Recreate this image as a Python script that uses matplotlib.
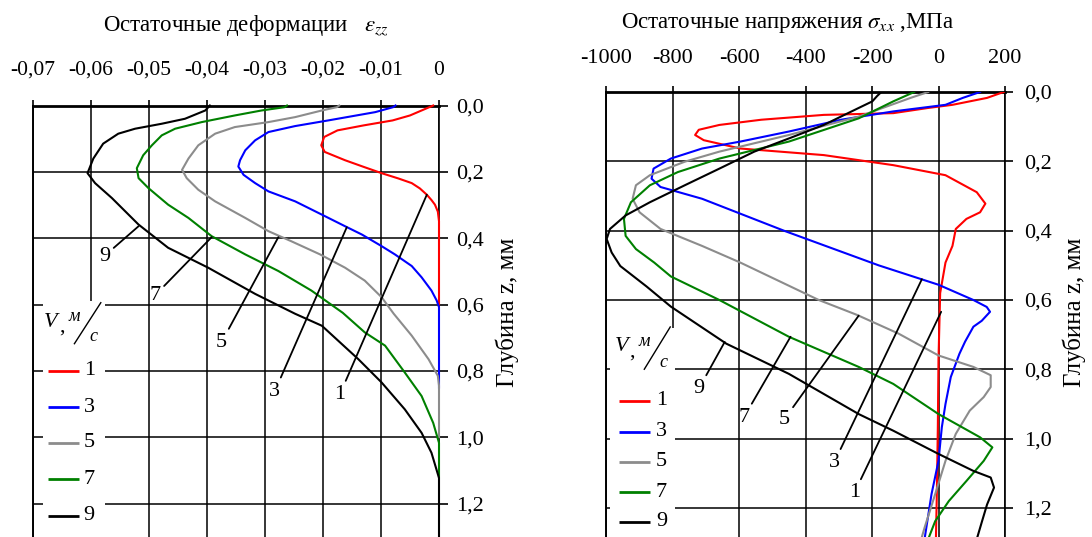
import matplotlib
matplotlib.use("Agg")
import matplotlib.pyplot as plt
from matplotlib.patches import Rectangle

plt.rcParams['font.family'] = ['Liberation Serif', 'DejaVu Serif']
plt.rcParams['mathtext.fontset'] = 'stix'

# ---- data: residual strain eps_zz (left) ----
speeds = ['1', '3', '5', '7', '9']
colors = ['#ff0000', '#0000ff', '#8c8c8c', '#008000', '#000000']

eps_z1 = [0.0, 0.015, 0.03, 0.045, 0.06, 0.075, 0.095, 0.12, 0.14, 0.165, 0.185, 0.204, 0.22, 0.234, 0.25, 0.269, 0.285, 0.299, 0.32, 0.349, 0.6]
eps_v1 = [-0.0010, -0.0030, -0.0050, -0.0080, -0.0130, -0.0175, -0.0198, -0.0203, -0.0197, -0.0162, -0.0130, -0.0099, -0.0070, -0.0047, -0.0033, -0.0021, -0.0013, -0.0007, -0.0002, 0.0, 0.0]

eps_z3 = [0.0, 0.005, 0.02, 0.045, 0.062, 0.08, 0.105, 0.135, 0.165, 0.184, 0.209, 0.234, 0.259, 0.289, 0.329, 0.364, 0.389, 0.424, 0.449, 0.484, 0.518, 0.558, 0.588, 0.608, 0.85]
eps_v3 = [-0.0075, -0.0079, -0.0110, -0.0191, -0.0248, -0.0294, -0.0317, -0.0334, -0.0343, -0.0346, -0.0337, -0.0317, -0.0294, -0.0248, -0.0202, -0.0162, -0.0133, -0.0099, -0.0076, -0.0047, -0.0030, -0.0013, -0.0004, 0.0, 0.0]

eps_z5 = [0.0, 0.005, 0.015, 0.035, 0.05, 0.065, 0.085, 0.12, 0.16, 0.194, 0.219, 0.254, 0.289, 0.339, 0.379, 0.409, 0.449, 0.489, 0.528, 0.578, 0.628, 0.694, 0.765, 0.815, 0.845, 1.0]
eps_v5 = [-0.0172, -0.0176, -0.0202, -0.0248, -0.0294, -0.0352, -0.0386, -0.0415, -0.0432, -0.0443, -0.0435, -0.0415, -0.0386, -0.0334, -0.0294, -0.0255, -0.0205, -0.0162, -0.0128, -0.0099, -0.0078, -0.0047, -0.0018, -0.0002, 0.0, 0.0]

eps_z7 = [0.0, 0.005, 0.015, 0.03, 0.05, 0.07, 0.09, 0.12, 0.15, 0.189, 0.219, 0.249, 0.299, 0.339, 0.394, 0.449, 0.499, 0.558, 0.625, 0.684, 0.724, 0.805, 0.876, 0.957, 1.017, 1.12]
eps_v7 = [-0.0262, -0.0266, -0.0306, -0.0352, -0.0409, -0.0455, -0.0478, -0.0495, -0.0510, -0.0521, -0.0518, -0.0501, -0.0467, -0.0432, -0.0392, -0.0334, -0.0277, -0.0220, -0.0166, -0.0128, -0.0093, -0.0059, -0.0030, -0.0010, 0.0, 0.0]

eps_z9 = [0.0, 0.015, 0.04, 0.055, 0.07, 0.085, 0.115, 0.16, 0.204, 0.234, 0.279, 0.359, 0.429, 0.489, 0.568, 0.628, 0.664, 0.765, 0.835, 0.916, 0.987, 1.047, 1.123, 1.35]
eps_v9 = [-0.0395, -0.0403, -0.0438, -0.0478, -0.0524, -0.0553, -0.0579, -0.0596, -0.0606, -0.0593, -0.0564, -0.0518, -0.0467, -0.0398, -0.0317, -0.0248, -0.0202, -0.0139, -0.0099, -0.0059, -0.0030, -0.0013, 0.0, 0.0]

# ---- data: residual stress sigma_xx, MPa (right) ----
sig_z1 = [0.0, 0.017, 0.037, 0.046, 0.061, 0.066, 0.080, 0.095, 0.109, 0.124, 0.139, 0.163, 0.182, 0.211, 0.240, 0.289, 0.322, 0.347, 0.366, 0.395, 0.444, 0.492, 0.58, 0.77, 0.967, 1.16, 1.3]
sig_v1 = [196, 146, 42, -31, -136, -345, -533, -659, -721, -732, -706, -596, -345, -136, 21, 115, 141, 125, 84, 52, 42, 21, 5, 0, -2, -5, -8]

sig_z3 = [0.0, 0.017, 0.037, 0.056, 0.080, 0.114, 0.143, 0.163, 0.192, 0.221, 0.250, 0.274, 0.308, 0.4, 0.5, 0.556, 0.6, 0.62, 0.634, 0.66, 0.677, 0.72, 0.755, 0.822, 0.9, 0.967, 1.064, 1.16, 1.29]
sig_v3 = [125, 73, 21, -136, -293, -450, -596, -711, -805, -857, -863, -836, -711, -465, -180, 0, 105, 145, 155, 130, 105, 80, 63, 37, 21, 10, 0, -21, -42]

sig_z5 = [0.0, 0.017, 0.071, 0.124, 0.172, 0.201, 0.240, 0.269, 0.308, 0.347, 0.395, 0.444, 0.492, 0.6, 0.643, 0.697, 0.76, 0.793, 0.817, 0.851, 0.88, 0.919, 0.986, 1.064, 1.16, 1.257, 1.29]
sig_v5 = [-31, -84, -240, -450, -659, -763, -868, -910, -920, -899, -836, -711, -596, -360, -245, -120, 0, 105, 157, 157, 136, 94, 52, 21, -10, -42, -52]

sig_z7 = [0.0, 0.027, 0.076, 0.143, 0.192, 0.231, 0.269, 0.318, 0.366, 0.415, 0.453, 0.492, 0.532, 0.6, 0.706, 0.793, 0.842, 0.929, 0.996, 1.025, 1.064, 1.122, 1.18, 1.238, 1.29]
sig_v7 = [-73, -136, -240, -450, -659, -784, -868, -925, -946, -941, -910, -855, -805, -659, -450, -240, -136, 0, 125, 162, 136, 84, 31, -10, -31]

sig_z9 = [0.0, 0.012, 0.027, 0.046, 0.095, 0.134, 0.172, 0.221, 0.269, 0.318, 0.356, 0.395, 0.424, 0.463, 0.502, 0.561, 0.619, 0.726, 0.813, 0.929, 0.977, 1.044, 1.093, 1.112, 1.141, 1.19, 1.238, 1.29]
sig_v9 = [-172, -185, -199, -240, -345, -450, -554, -659, -763, -868, -941, -988, -998, -983, -957, -878, -805, -638, -450, -240, -136, 0, 105, 157, 167, 146, 131, 115]

# ticks
eps_ticks = [-0.07, -0.06, -0.05, -0.04, -0.03, -0.02, -0.01, 0.0]
eps_labels = ['-0,07', '-0,06', '-0,05', '-0,04', '-0,03', '-0,02', '-0,01', '0']
sig_ticks = [-1000, -800, -600, -400, -200, 0, 200]
sig_labels = ['-1000', '-800', '-600', '-400', '-200', '0', '200']
depth_ticks = [0.0, 0.2, 0.4, 0.6, 0.8, 1.0, 1.2]
depth_labels = ['0,0', '0,2', '0,4', '0,6', '0,8', '1,0', '1,2']

# leader lines: point on curve -> number label
eps_notes = [('9', (-0.0518, 0.364), (-0.0577, 0.454)),
             ('7', (-0.0392, 0.397), (-0.0490, 0.573)),
             ('5', (-0.0277, 0.397), (-0.0375, 0.714)),
             ('3', (-0.0159, 0.367), (-0.0283, 0.861)),
             ('1', (-0.0021, 0.269), (-0.0171, 0.871))]
sig_notes = [('9', (-643, 0.721), (-721, 0.856)),
             ('7', (-445, 0.706), (-585, 0.938)),
             ('5', (-240, 0.645), (-465, 0.946)),
             ('3', (-50, 0.540), (-314, 1.069)),
             ('1', (8, 0.634), (-253, 1.156))]


def setup_axes(ax, xticks, xlabels, xlim, ylim, xsize, ypad, xpad, rlen):
    ax.set_xlim(xlim)
    ax.set_ylim(ylim)
    ax.xaxis.tick_top()
    ax.yaxis.tick_right()
    ax.set_xticks(xticks)
    ax.set_xticklabels(xlabels)
    ax.set_yticks(depth_ticks)
    ax.set_yticklabels(depth_labels)
    ax.tick_params(axis='x', direction='out', length=4.5, width=1.2, pad=xpad, labelsize=xsize)
    ax.tick_params(axis='y', direction='out', length=rlen, width=1.2, pad=ypad, labelsize=16)
    ax.grid(True, color='black', linewidth=1.1, zorder=0)
    ax.set_axisbelow(True)
    ax.spines['bottom'].set_visible(False)
    ax.spines['top'].set_linewidth(2.0)
    ax.spines['left'].set_linewidth(1.4)
    ax.spines['right'].set_linewidth(1.2)
    ax.yaxis.set_label_position('right')
    ax.set_ylabel('Глубина z, мм', fontsize=18, rotation=90)


def draw_legend(ax, box, v_pos, rows_y, line_x, label_x):
    # white area that hides the grid under the legend
    ax.add_patch(Rectangle((box[0], 0), box[1], box[2], transform=ax.transAxes,
                           facecolor='white', edgecolor='none', zorder=2, clip_on=False))
    vx, vy = v_pos
    ax.text(vx, vy, 'V', transform=ax.transAxes, fontsize=16, style='italic',
            ha='center', va='center', zorder=3)
    ax.text(vx + 0.027, vy - 0.012, ',', transform=ax.transAxes, fontsize=16,
            ha='center', va='center', zorder=3)
    ax.text(vx + 0.058, vy + 0.012, 'м', transform=ax.transAxes, fontsize=13, style='italic',
            ha='center', va='center', zorder=3)
    ax.plot([vx + 0.058, vx + 0.123], [vy - 0.05, vy + 0.045], transform=ax.transAxes,
            color='black', lw=1.0, zorder=3, clip_on=False)
    ax.text(vx + 0.105, vy - 0.034, 'с', transform=ax.transAxes, fontsize=13, style='italic',
            ha='center', va='center', zorder=3)
    for name, col, y in zip(speeds, colors, rows_y):
        ax.plot(line_x, [y, y], transform=ax.transAxes, color=col, lw=2.0, zorder=3,
                solid_capstyle='butt')
        ax.text(label_x, y, name, transform=ax.transAxes, fontsize=16,
                ha='left', va='center', zorder=3)


def add_notes(ax, notes):
    for name, xy, xt in notes:
        ax.annotate(name, xy=xy, xytext=xt, fontsize=16, ha='center', va='center',
                    arrowprops=dict(arrowstyle='-', color='black', lw=1.3,
                                    shrinkA=1, shrinkB=0), zorder=4)


fig = plt.figure(figsize=(10.92, 5.37), dpi=100)

# left panel: strain
ax1 = fig.add_axes([33 / 1092, 0, 406 / 1092, 431.5 / 537])
setup_axes(ax1, eps_ticks, eps_labels, (-0.07, 0.0), (1.301, 0.0), 15.5, 6, 14, 6.5)
for z, v, col in zip([eps_z1, eps_z3, eps_z5, eps_z7, eps_z9],
                     [eps_v1, eps_v3, eps_v5, eps_v7, eps_v9], colors):
    ax1.plot(v, z, color=col, lw=1.5, zorder=3, clip_on=False)
draw_legend(ax1, (0.025, 0.153, 0.547), (0.044, 0.498),
            [0.385, 0.301, 0.218, 0.134, 0.049], [0.037, 0.113], 0.125)
add_notes(ax1, eps_notes)
ax1.yaxis.set_label_coords(1.138, 0.52)

# right panel: stress
ax2 = fig.add_axes([606 / 1092, 0, 399 / 1092, 445 / 537])
setup_axes(ax2, sig_ticks, sig_labels, (-1000, 200), (1.2836, 0.0), 16, 8, 13, 6)
for z, v, col in zip([sig_z1, sig_z3, sig_z5, sig_z7, sig_z9],
                     [sig_v1, sig_v3, sig_v5, sig_v7, sig_v9], colors):
    ax2.plot(v, z, color=col, lw=1.5, zorder=3)
draw_legend(ax2, (0.01, 0.163, 0.47), (0.038, 0.427),
            [0.306, 0.236, 0.169, 0.101, 0.034], [0.033, 0.110], 0.125)
add_notes(ax2, sig_notes)
ax2.yaxis.set_label_coords(1.145, 0.506)

# titles
fig.text(246 / 1092, 1 - 26 / 537, 'Остаточные деформации   $\\varepsilon_{zz}$',
         fontsize=16.5, ha='center', va='center')
fig.text(788 / 1092, 1 - 23 / 537, 'Остаточные напряжения $\\sigma_{xx}$ ,МПа',
         fontsize=16.5, ha='center', va='center')

fig.savefig('out.png', dpi=100)
